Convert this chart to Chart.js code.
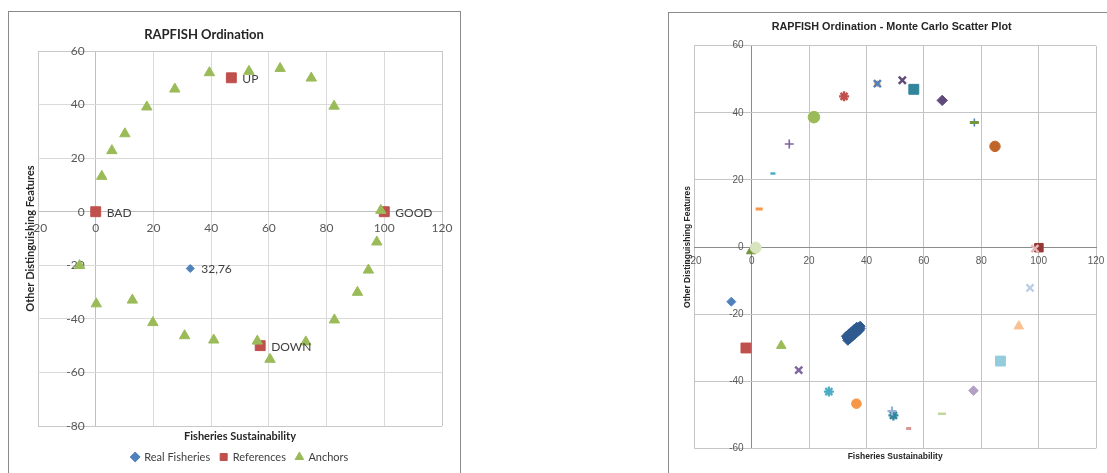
<!DOCTYPE html>
<html>
<head>
<meta charset="utf-8">
<script src="https://cdn.jsdelivr.net/npm/chart.js@4.4.1/dist/chart.umd.min.js"></script>
<style>
  html, body { margin: 0; padding: 0; background: #ffffff; overflow: hidden; width: 1107px; height: 473px; }
  .box { position: absolute; border: 1px solid #8a8a8a; background: #fff; }
  canvas { position: absolute; left: 0; top: 0; }
</style>
</head>
<body>
<div class="box" style="left:8px; top:11px; width:451px; height:490px;">
  <canvas id="left" width="453" height="461"></canvas>
</div>
<div class="box" style="left:668px; top:12px; width:460px; height:490px;">
  <canvas id="right" width="445" height="460"></canvas>
</div>
<script>
// ---------------- Left chart data: RAPFISH Ordination ----------------
const realX = [32.76];
const realY = [-21.2];
const realLabels = ['32,76'];

const refX = [0, 100, 47, 57];
const refY = [0, 0, 50, -50];
const refLabels = ['BAD', 'GOOD', 'UP', 'DOWN'];

const anchorX = [2.1, 5.6, 10.1, 17.7, 27.4, 39.4, 53.1, 63.9, 74.7, 82.6, 98.8,
                 97.4, 94.5, 90.7, 82.7, 72.8, 60.4, 56.0, 40.9, 30.8, 19.8, 12.7, 0.2, -5.6];
const anchorY = [13.2, 22.8, 29.1, 39.1, 45.8, 51.9, 52.4, 53.5, 49.9, 39.4, 0.5,
                 -11.3, -21.8, -30.1, -40.4, -48.6, -55.1, -48.3, -47.9, -46.3, -41.4, -33.0, -34.4, -20.1];

const leftXTicks = [-20, 0, 20, 40, 60, 80, 100, 120];
const leftYTicks = [-80, -60, -40, -20, 0, 20, 40, 60];

// ---------------- Right chart data: Monte Carlo Scatter Plot ----------------
const mcClusterX = [33.3, 33.7, 34.1, 34.5, 34.9, 35.3, 35.7, 36.1, 36.5, 36.9, 37.3, 37.8,
                    33.8, 34.6, 35.4, 36.2, 37.0, 37.8, 33.0, 33.9, 34.8, 35.7, 36.6,
                    33.5, 34.3, 35.1, 35.9, 36.7, 37.5];
const mcClusterY = [-27.2, -26.9, -26.5, -26.2, -25.9, -25.6, -25.2, -24.9, -24.6, -24.3, -24.0, -23.6,
                    -27.4, -26.8, -26.1, -25.5, -24.9, -24.3, -26.6, -25.9, -25.3, -24.6, -23.9,
                    -27.8, -27.2, -26.6, -26.0, -25.4, -24.8];

const mcPointX = [-7.1, -2.0, 10.3, 16.4, 26.9, 36.5, 48.9, 49.4, 54.7, 66.3, 77.3, 86.7, 93.1, 97.0, 98.7, 100.1,
                  1.4, -0.2, 2.6, 7.4, 13.1, 21.7, 32.2, 43.8, 43.8, 52.5, 56.5, 66.4, 77.6, 77.6, 84.8, 85.4];
const mcPointY = [-16.3, -30.1, -29.4, -36.7, -43.1, -46.7, -48.9, -50.2, -54.1, -49.7, -42.8, -34.0, -23.6, -12.2, -0.5, -0.2,
                  -0.2, -1.2, 11.3, 21.9, 30.7, 38.7, 44.9, 48.7, 48.7, 49.7, 47.0, 43.7, 37.1, 37.1, 30.0, 30.0];

const rightXTicks = [-20, 0, 20, 40, 60, 80, 100, 120];
const rightYTicks = [-60, -40, -20, 0, 20, 40, 60];

// marker style for each Monte Carlo point (style only): [pointStyle, colour, radius, borderWidth]
const mcStyles = [
  ['rectRot', '#4F81BD', 4.5, 1], ['rect', '#C0504D', 7, 1], ['triangle', '#9BBB59', 5.5, 1],
  ['crossRot', '#8064A2', 5, 2.4], ['star', '#4BACC6', 5, 2.2], ['circle', '#F79646', 4.8, 1],
  ['cross', '#95B3D7', 4.5, 2.2], ['star', '#31859C', 5, 2.4], ['line', '#D99694', 2.5, 3],
  ['line', '#C3D69B', 4, 2.5], ['rectRot', '#B3A2C7', 4.8, 1], ['rect', '#93CDDD', 7, 1],
  ['triangle', '#FAC090', 5.5, 1], ['crossRot', '#B9CDE5', 5, 2.2], ['crossRot', '#E6B9B8', 5, 2.4],
  ['rect', '#953735', 6, 1], ['circle', '#D7E4BD', 5.5, 1], ['triangle', '#77933C', 5.5, 1],
  ['line', '#F79646', 3.5, 3], ['line', '#4BACC6', 2.5, 2.5], ['cross', '#8064A2', 4.5, 1.6],
  ['circle', '#9BBB59', 5.8, 1], ['star', '#C0504D', 5, 2.4], ['crossRot', '#4F81BD', 5, 2.4],
  ['star', '#F79646', 3.2, 1.8], ['crossRot', '#604A7B', 5, 2.4], ['rect', '#31859C', 7, 1],
  ['rectRot', '#604A7B', 5.2, 1], ['line', '#77933C', 4.5, 3], ['cross', '#4F81BD', 4, 1.6],
  ['circle', '#C0652A', 5.2, 1], ['circle', '#C0504D', 2, 1]
];

// ---------------- helpers ----------------
function pts(xs, ys) { return xs.map((x, i) => ({ x: x, y: ys[i] })); }

const pointLabelPlugin = {
  id: 'pointLabelPlugin',
  afterDatasetsDraw(chart) {
    const ctx = chart.ctx;
    chart.data.datasets.forEach((ds, i) => {
      if (!ds.pointText) return;
      const meta = chart.getDatasetMeta(i);
      ctx.save();
      ctx.font = '12px Lato';
      ctx.fillStyle = '#404040';
      ctx.textAlign = 'left';
      ctx.textBaseline = 'middle';
      meta.data.forEach((el, j) => ctx.fillText(ds.pointText[j], el.x + 11, el.y + 1));
      ctx.restore();
    });
  }
};

const chartTitlePlugin = {
  id: 'chartTitlePlugin',
  afterDraw(chart, args, opts) {
    const ctx = chart.ctx;
    ctx.save();
    ctx.font = opts.font;
    ctx.fillStyle = opts.color;
    ctx.textAlign = 'center';
    ctx.textBaseline = 'middle';
    ctx.fillText(opts.text, opts.x, opts.y);
    ctx.restore();
  }
};

function tickList(list) {
  return function (scale) { scale.ticks = list.map(v => ({ value: v })); };
}

// ---------------- Left chart ----------------
const leftGrid = (min, max) => (c) => {
  const v = c.tick && c.tick.value;
  if (v === 0) return '#BFBFBF';
  if (v === min || v === max) return '#C8C8C8';
  return '#DADADA';
};

new Chart(document.getElementById('left'), {
  type: 'scatter',
  data: {
    datasets: [
      { label: 'Real Fisheries', data: pts(realX, realY), pointText: realLabels, order: 2,
        pointStyle: 'rectRot', pointRadius: 4, backgroundColor: '#4F81BD', borderColor: '#4F81BD', borderWidth: 1 },
      { label: 'References', data: pts(refX, refY), pointText: refLabels, order: 1,
        pointStyle: 'rect', pointRadius: 7, backgroundColor: '#C0504D', borderColor: '#C0504D', borderWidth: 1 },
      { label: 'Anchors', data: pts(anchorX, anchorY), order: 0,
        pointStyle: 'triangle', pointRadius: 6, backgroundColor: '#9BBB59', borderColor: '#9BBB59', borderWidth: 1 }
    ]
  },
  options: {
    responsive: false, animation: false, devicePixelRatio: 1,
    layout: { padding: { top: 39, left: 0, right: 20, bottom: 0.5 } },
    scales: {
      x: { type: 'linear', position: { y: 0 }, min: -20, max: 120, afterBuildTicks: tickList(leftXTicks),
           ticks: { font: { family: 'Lato', size: 12 }, color: '#595959', padding: 9 },
           grid: { color: leftGrid(-20, 120), drawTicks: false, lineWidth: 1 },
           border: { color: '#BFBFBF' } },
      y: { type: 'linear', position: { x: -3.8 }, min: -80, max: 60, afterBuildTicks: tickList(leftYTicks),
           ticks: { font: { family: 'Lato', size: 12 }, color: '#595959' },
           grid: { color: leftGrid(-80, 60), drawTicks: false, lineWidth: 1 },
           border: { display: false } },
      xt: { type: 'linear', axis: 'x', position: 'bottom', display: true,
            ticks: { display: false }, grid: { display: false, drawTicks: false }, border: { display: false },
            title: { display: true, text: 'Fisheries Sustainability', color: '#262626',
                     font: { family: 'Lato', size: 11, weight: 'bold', lineHeight: 1 }, padding: { top: 4.5, bottom: 0 } } },
      yt: { type: 'linear', axis: 'y', position: 'left', display: true,
            ticks: { display: false }, grid: { display: false, drawTicks: false }, border: { display: false },
            title: { display: true, text: 'Other Distinguishing Features', color: '#262626',
                     font: { family: 'Lato', size: 11, weight: 'bold' }, padding: { top: 14.4, bottom: 1.4 } } }
    },
    plugins: {
      legend: { display: true, position: 'bottom', fullSize: false,
        labels: { usePointStyle: true, boxWidth: 7, boxHeight: 7, padding: 10, color: '#404040',
                  font: { family: 'Lato', size: 11 }, sort: (a, b) => a.datasetIndex - b.datasetIndex } },
      tooltip: { enabled: false },
      chartTitlePlugin: { text: 'RAPFISH Ordination', font: 'bold 13px Lato', color: '#262626', x: 195, y: 23 }
    }
  },
  plugins: [pointLabelPlugin, chartTitlePlugin]
});

// ---------------- Right chart ----------------
const rightGrid = (c) => (c.tick && c.tick.value === 0) ? '#8C8C8C' : '#C4C4C4';

const rightDatasets = [{
  label: 'Monte Carlo', data: pts(mcClusterX, mcClusterY),
  pointStyle: 'rectRot', pointRadius: 5, backgroundColor: '#2F5A8F', borderColor: '#2F5A8F', borderWidth: 1
}];
mcPointX.forEach((x, i) => {
  const s = mcStyles[i];
  rightDatasets.push({
    label: 'P' + i, data: [{ x: x, y: mcPointY[i] }],
    pointStyle: s[0], pointRadius: s[2], borderWidth: s[3],
    backgroundColor: s[1], borderColor: s[1]
  });
});

new Chart(document.getElementById('right'), {
  type: 'scatter',
  data: { datasets: rightDatasets },
  options: {
    responsive: false, animation: false, devicePixelRatio: 1,
    layout: { padding: { top: 32.7, left: 0, right: 18, bottom: 0 } },
    scales: {
      x: { type: 'linear', position: { y: 0 }, min: -20, max: 120, afterBuildTicks: tickList(rightXTicks),
           ticks: { font: { family: 'Liberation Sans', size: 10 }, color: '#595959', padding: 8 },
           grid: { color: rightGrid, drawTicks: false },
           border: { color: '#8C8C8C' } },
      y: { type: 'linear', position: { x: -2.8 }, min: -60, max: 60, afterBuildTicks: tickList(rightYTicks),
           ticks: { font: { family: 'Liberation Sans', size: 10 }, color: '#595959' },
           grid: { color: rightGrid, drawTicks: false },
           border: { display: false } },
      xt: { type: 'linear', axis: 'x', position: 'bottom', display: true,
            ticks: { display: false }, grid: { display: false, drawTicks: false }, border: { display: false },
            title: { display: true, text: 'Fisheries Sustainability', color: '#262626',
                     font: { family: 'Liberation Sans', size: 8.5, weight: 'bold' }, padding: { top: 3.3, bottom: 11.2 } } },
      yt: { type: 'linear', axis: 'y', position: 'left', display: true,
            ticks: { display: false }, grid: { display: false, drawTicks: false }, border: { display: false },
            title: { display: true, text: 'Other Distinguishing Features', color: '#262626',
                     font: { family: 'Liberation Sans', size: 8.5, weight: 'bold' }, padding: { top: 13.9, bottom: 1.2 } } }
    },
    plugins: {
      legend: { display: false },
      tooltip: { enabled: false },
      chartTitlePlugin: { text: 'RAPFISH Ordination - Monte Carlo Scatter Plot', font: 'bold 10.8px "Liberation Sans"',
                          color: '#262626', x: 222.7, y: 13.7 }
    }
  },
  plugins: [chartTitlePlugin]
});
</script>
</body>
</html>
